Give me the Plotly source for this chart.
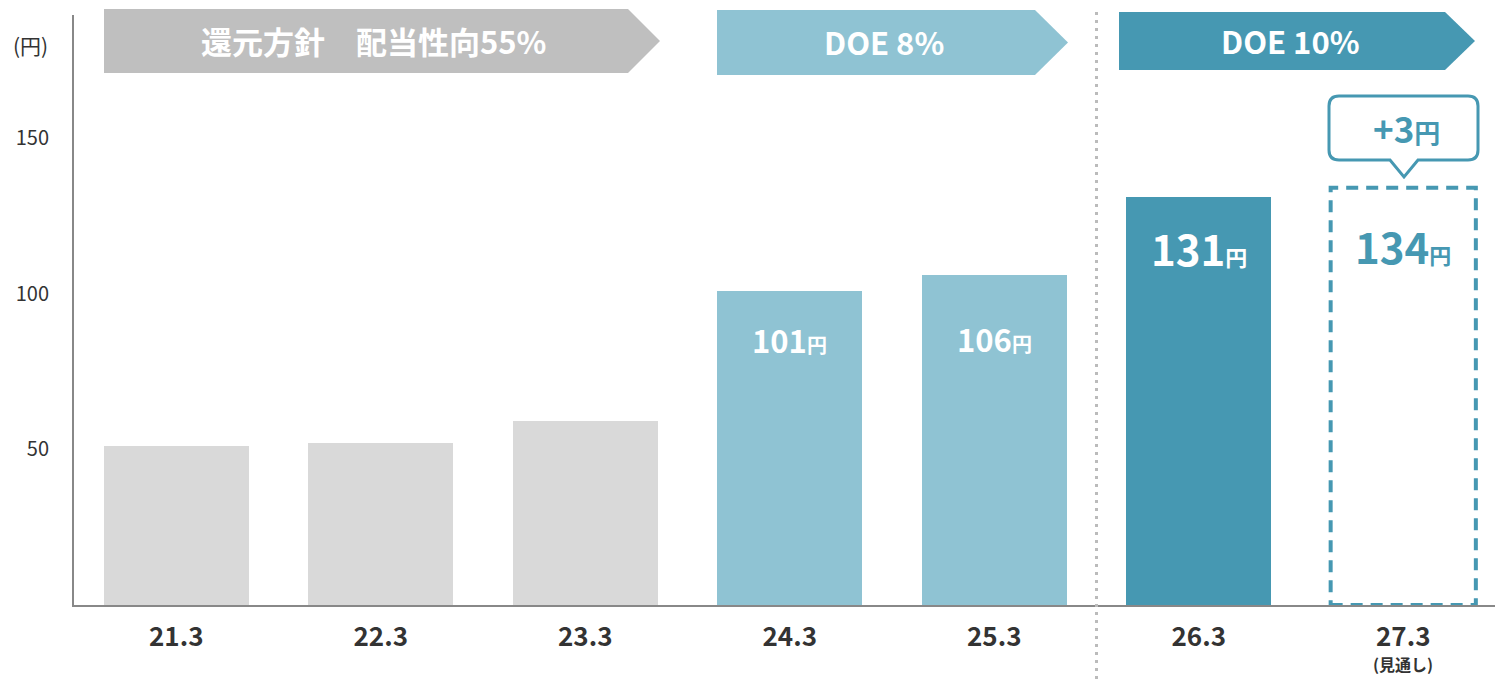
import plotly.graph_objects as go

# ---- data ----
categories = ["21.3", "22.3", "23.3", "24.3", "25.3", "26.3", "27.3"]
dividends = [51, 52, 59, 101, 106, 131, 134]
value_labels = [None, None, None, "101", "106", "131", "134"]
y_ticks = [50, 100, 150]
banner_texts = ["還元方針　配当性向55%", "DOE 8%", "DOE 10%"]
increase_text = "+3"
forecast_note = "(見通し)"
unit = "円"

# ---- styles ----
W, H = 1495, 679
ML, MR, MT, MB = 74, 0, 15, 74
FONT = "Noto Sans CJK JP"
GRAY_BAR = "#d9d9d9"
LIGHT = "#8fc3d3"
TEAL = "#4698b2"
BANNER_GRAY = "#bfbfbf"
TXT = "#333333"

bar_colors = [GRAY_BAR, GRAY_BAR, GRAY_BAR, LIGHT, LIGHT, TEAL, "rgba(0,0,0,0)"]
xs = list(range(len(categories)))
BAR_W = 0.71

pw = W - ML - MR
ph = H - MT - MB


def px(x):
    return (x - ML) / pw


def py(y):
    return (H - MB - y) / ph


fig = go.Figure()
fig.add_trace(go.Bar(
    x=xs, y=dividends, width=BAR_W,
    marker=dict(color=bar_colors, line=dict(width=0)),
    hoverinfo="skip", showlegend=False,
))

shapes = []
annotations = []

# dashed forecast bar outline (from data value)
shapes.append(dict(
    type="rect", xref="x", yref="y",
    x0=xs[6] - BAR_W / 2, x1=xs[6] + BAR_W / 2, y0=0, y1=dividends[6],
    line=dict(color=TEAL, width=4, dash="12px,8px"), fillcolor="rgba(0,0,0,0)",
    layer="above",
))

# vertical dotted separator between 25.3 and 26.3
shapes.append(dict(
    type="line", xref="x", yref="paper",
    x0=(xs[4] + xs[5]) / 2, x1=(xs[4] + xs[5]) / 2,
    y0=py(H), y1=py(8),
    line=dict(color="#bbbbbb", width=3, dash="3px,5px"),
))


# banners (arrow shapes)
def arrow(x0, x1, tip, y0, y1, color):
    ym = (y0 + y1) / 2
    path = (f"M {px(x0)} {py(y0)} L {px(x1)} {py(y0)} L {px(tip)} {py(ym)} "
            f"L {px(x1)} {py(y1)} L {px(x0)} {py(y1)} Z")
    return dict(type="path", xref="paper", yref="paper", path=path,
                fillcolor=color, line=dict(width=0), layer="above")


banners = [
    (104, 628, 660, 9, 73, BANNER_GRAY, 373),
    (717, 1035, 1068, 10, 75, LIGHT, 884),
    (1119, 1445, 1475, 12, 70, TEAL, 1290),
]
for (x0, x1, tip, y0, y1, col, cx), txt in zip(banners, banner_texts):
    shapes.append(arrow(x0, x1, tip, y0, y1, col))
    annotations.append(dict(
        xref="paper", yref="paper", x=px(cx), y=py((y0 + y1) / 2 - 1),
        text=f"<b>{txt}</b>", showarrow=False,
        font=dict(family=FONT, size=31, color="white"),
        xanchor="center", yanchor="middle",
    ))

# speech bubble
bl, br, bt, bb, r = 1329, 1478, 96, 160, 10
tx, th, tw = 1404, 17, 14
bpath = (
    f"M {px(bl + r)} {py(bt)} L {px(br - r)} {py(bt)} "
    f"Q {px(br)} {py(bt)} {px(br)} {py(bt + r)} "
    f"L {px(br)} {py(bb - r)} Q {px(br)} {py(bb)} {px(br - r)} {py(bb)} "
    f"L {px(tx + tw)} {py(bb)} L {px(tx)} {py(bb + th)} L {px(tx - tw)} {py(bb)} "
    f"L {px(bl + r)} {py(bb)} Q {px(bl)} {py(bb)} {px(bl)} {py(bb - r)} "
    f"L {px(bl)} {py(bt + r)} Q {px(bl)} {py(bt)} {px(bl + r)} {py(bt)} Z"
)
shapes.append(dict(type="path", xref="paper", yref="paper", path=bpath,
                   fillcolor="white", line=dict(color=TEAL, width=3), layer="above"))
annotations.append(dict(
    xref="paper", yref="paper", x=px(tx + 2), y=py(127),
    text=f"<b>{increase_text}<span style='font-size:26px'>{unit}</span></b>",
    showarrow=False, font=dict(family=FONT, size=35, color=TEAL),
    xanchor="center", yanchor="middle",
))

# value labels inside bars
label_sizes = [None, None, None, 31, 31, 42, 42]
unit_sizes = [None, None, None, 20, 20, 22, 22]
label_shift = [0, 0, 0, -49, -63, -50, -58]
label_colors = [None, None, None, "white", "white", "white", TEAL]
for i, lab in enumerate(value_labels):
    if lab is None:
        continue
    annotations.append(dict(
        xref="x", yref="y", x=xs[i], y=dividends[i], yshift=label_shift[i],
        text=f"<b>{lab}<span style='font-size:{unit_sizes[i]}px'>{unit}</span></b>",
        showarrow=False, font=dict(family=FONT, size=label_sizes[i], color=label_colors[i]),
        xanchor="center", yanchor="middle",
    ))

# y unit label
annotations.append(dict(
    xref="paper", yref="paper", x=px(30), y=py(45), text="(円)", showarrow=False,
    font=dict(family=FONT, size=21, color=TXT), xanchor="center", yanchor="middle",
))
# forecast note under last category
annotations.append(dict(
    xref="x", yref="paper", x=xs[6], y=py(678), text=f"<b>{forecast_note}</b>",
    showarrow=False, font=dict(family=FONT, size=16, color=TXT),
    xanchor="center", yanchor="bottom",
))

fig.update_layout(
    width=W, height=H,
    margin=dict(l=ML, r=MR, t=MT, b=MB, pad=0),
    plot_bgcolor="white", paper_bgcolor="white",
    bargap=0, showlegend=False,
    shapes=shapes, annotations=annotations,
    xaxis=dict(
        range=[-0.5, -0.5 + pw / 204.5], tickvals=xs,
        ticktext=[f"<b>{c}</b>" for c in categories],
        tickfont=dict(family=FONT, size=26, color=TXT),
        showgrid=False, zeroline=False, showline=True, linecolor="#888888", linewidth=2,
        ticks="", ticklabelstandoff=8, fixedrange=True,
    ),
    yaxis=dict(
        range=[0, ph / 3.113], tickvals=y_ticks,
        tickfont=dict(family=FONT, size=20, color=TXT),
        showgrid=False, zeroline=False, showline=True, linecolor="#888888", linewidth=2,
        ticks="", ticklabelstandoff=19, fixedrange=True,
    ),
)

fig.write_html(
    "out.html",
    config={"displayModeBar": False},
    post_script="document.body.style.margin='0';document.body.style.overflow='hidden';",
)
